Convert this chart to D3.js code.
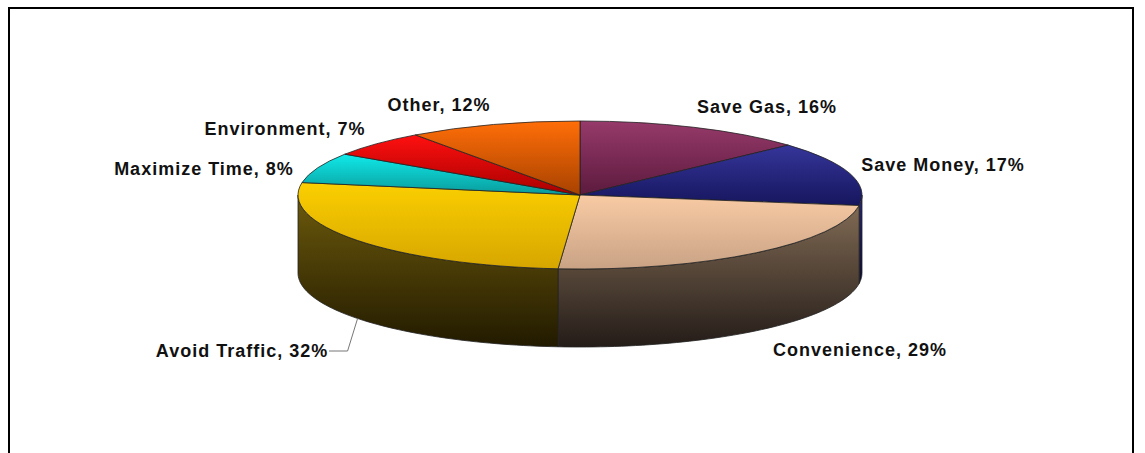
<!DOCTYPE html>
<html>
<head>
<meta charset="utf-8">
<script src="https://cdn.jsdelivr.net/npm/d3@7"></script>
<style>
  html, body { margin: 0; padding: 0; background: #fff; }
  svg { display: block; }
  text { font-family: "Liberation Sans", Arial, sans-serif; font-weight: bold; font-size: 18px; letter-spacing: 1px; fill: #111; }
</style>
</head>
<body>
<svg id="chart" width="1145" height="453"></svg>
<script>
// ---- data ----
const categories = ["Save Gas", "Save Money", "Convenience", "Avoid Traffic", "Maximize Time", "Environment", "Other"];
const values = [16, 17, 29, 32, 8, 7, 12];
const topColors = [["#963a6a", "#5c1a3e"], ["#35359a", "#16165e"], ["#f8cba4", "#c9a285"], ["#fbcf00", "#d6a600"], ["#10eaea", "#0a9a9a"], ["#ff1010", "#a80000"], ["#ff6e08", "#a84200"]];
const sideColors = [["#6a2848", "#2a0c1c"], ["#262678", "#0c0c30"], ["#806a54", "#241c18"], ["#6c5a0c", "#221a00"], ["#0a8a8a", "#034040"], ["#a00000", "#400000"], ["#a04000", "#401800"]];
const labelPos = [[767, 113], [943, 171], [860, 356], [242, 357], [204, 175], [285, 135], [439, 111]];

// ---- geometry ----
const cx = 580, cy = 195, rx = 282, ry = 74, depth = 78;
const svg = d3.select("#chart");
const defs = svg.append("defs");

svg.append("rect").attr("x", 9).attr("y", 8).attr("width", 1124).attr("height", 460)
  .attr("fill", "none").attr("stroke", "#000").attr("stroke-width", 2);

const pie = d3.pie().sort(null).value(d => d)(values);
const px = a => cx + rx * Math.sin(a);
const py = a => cy - ry * Math.cos(a);

function grad(id, c) {
  const g = defs.append("linearGradient").attr("id", id).attr("x1", 0).attr("y1", 0).attr("x2", 0).attr("y2", 1);
  g.append("stop").attr("offset", "0%").attr("stop-color", c[0]);
  g.append("stop").attr("offset", "100%").attr("stop-color", c[1]);
}
pie.forEach((d, i) => { grad("top" + i, topColors[i]); grad("side" + i, sideColors[i]); });

// sides (front half only: angle between PI/2 and 3PI/2)
const gSide = svg.append("g");
pie.forEach((d, i) => {
  const a0 = Math.max(d.startAngle, Math.PI / 2), a1 = Math.min(d.endAngle, 3 * Math.PI / 2);
  if (a1 <= a0) return;
  const n = 60, p = d3.path();
  for (let k = 0; k <= n; k++) {
    const a = a0 + (a1 - a0) * k / n;
    if (k === 0) p.moveTo(px(a), py(a)); else p.lineTo(px(a), py(a));
  }
  for (let k = n; k >= 0; k--) {
    const a = a0 + (a1 - a0) * k / n;
    p.lineTo(px(a), py(a) + depth);
  }
  p.closePath();
  gSide.append("path").attr("d", p.toString()).attr("fill", `url(#side${i})`)
    .attr("stroke", "#222").attr("stroke-width", 0.8);
});

// tops
const gTop = svg.append("g");
pie.forEach((d, i) => {
  const a0 = d.startAngle, a1 = d.endAngle;
  const large = (a1 - a0) > Math.PI ? 1 : 0;
  const dStr = `M${cx},${cy}L${px(a0)},${py(a0)}A${rx},${ry} 0 ${large} 1 ${px(a1)},${py(a1)}Z`;
  gTop.append("path").attr("d", dStr).attr("fill", `url(#top${i})`)
    .attr("stroke", "#222").attr("stroke-width", 0.8).attr("stroke-linejoin", "round");
});

// labels
const gLab = svg.append("g");
categories.forEach((c, i) => {
  gLab.append("text").attr("x", labelPos[i][0]).attr("y", labelPos[i][1])
    .attr("text-anchor", "middle").text(`${c}, ${values[i]}%`);
});

// leader line for Avoid Traffic
const at = pie[3];
const aMid = (at.startAngle + at.endAngle) / 2;
const lx = px(aMid), ly = py(aMid) + depth;
gLab.append("path")
  .attr("d", `M${lx},${ly}L${lx - 10},${351}L${329},${351}`)
  .attr("fill", "none").attr("stroke", "#777").attr("stroke-width", 1);
</script>
</body>
</html>
